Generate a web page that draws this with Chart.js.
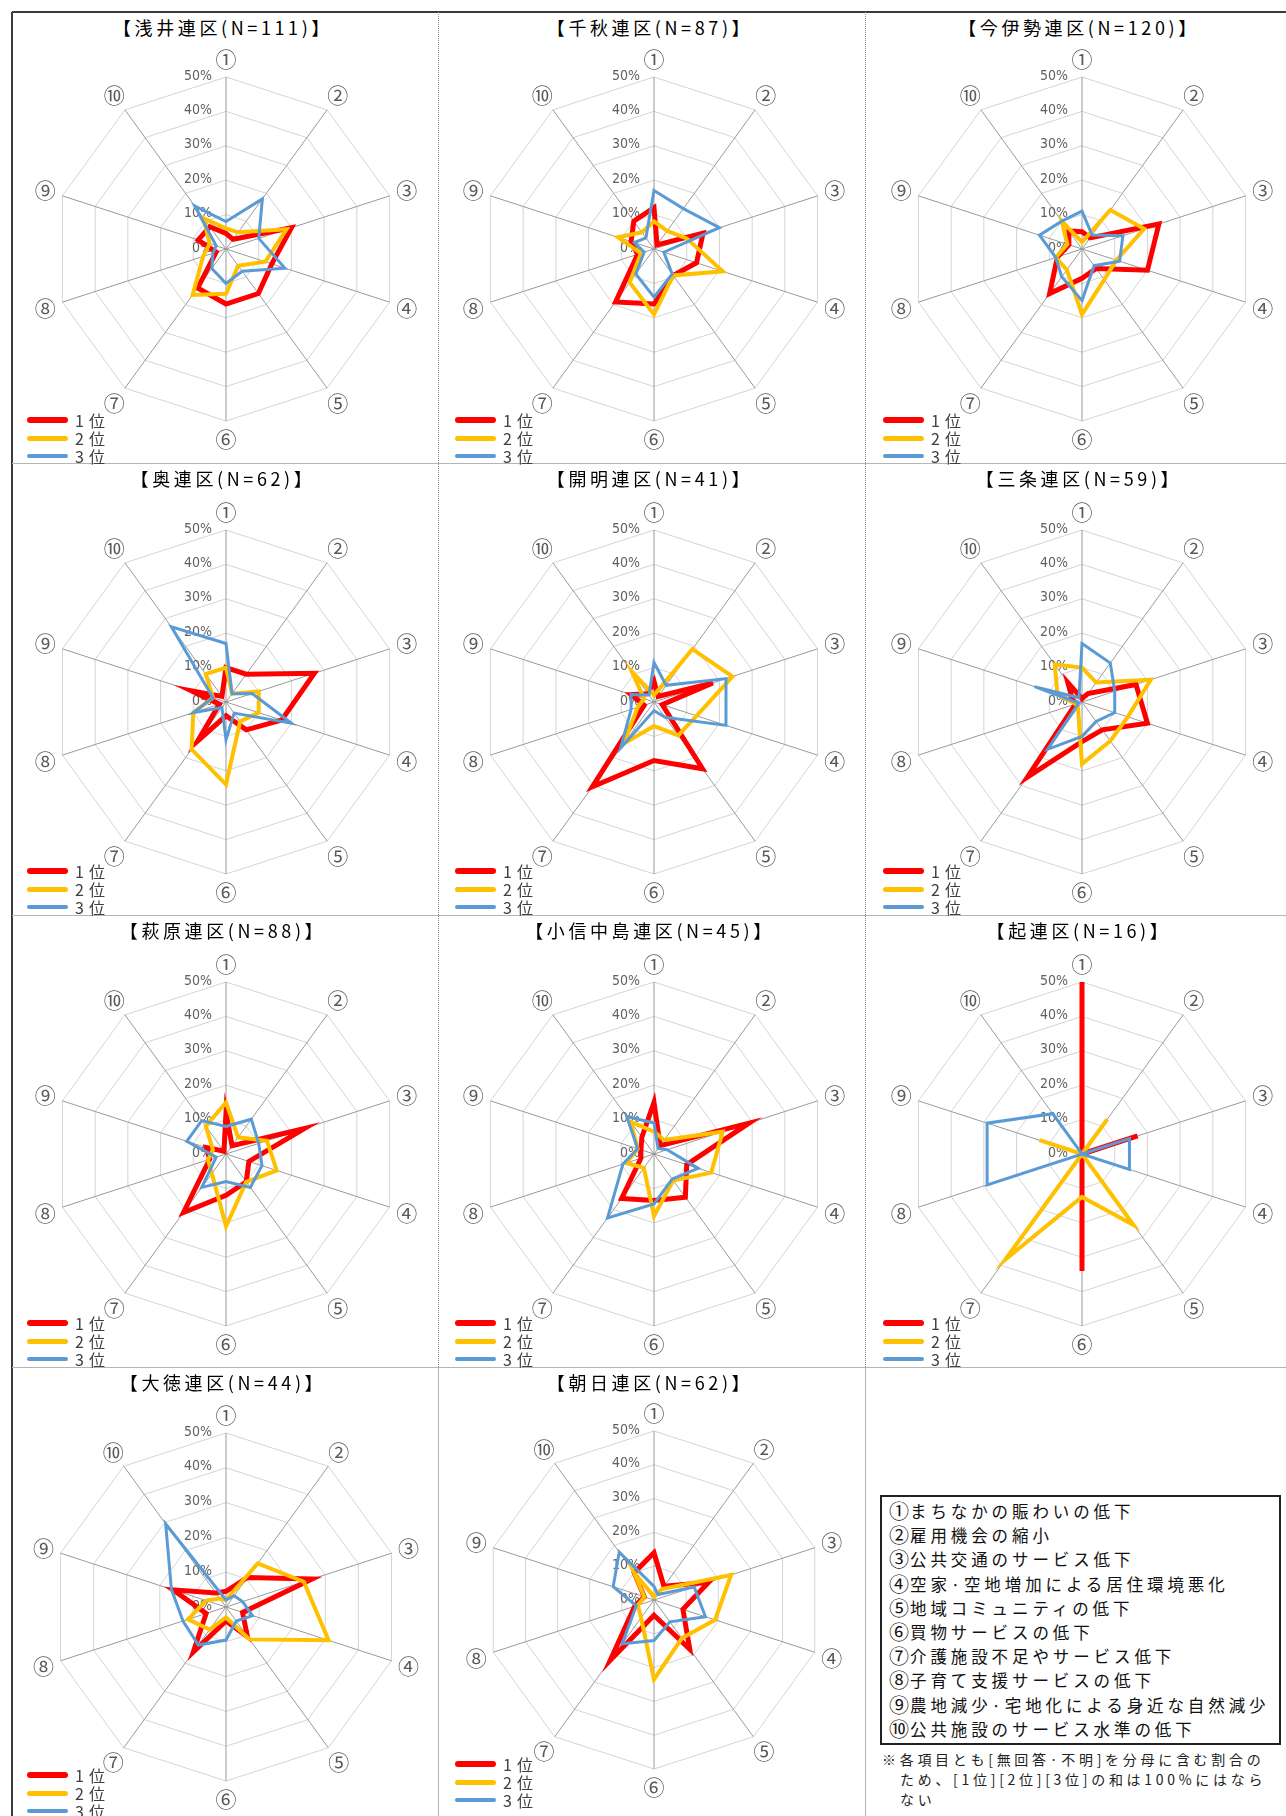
<!DOCTYPE html>
<html lang="ja">
<head>
<meta charset="utf-8">
<title>連区別 地域の課題（1位・2位・3位）</title>
<script src="https://cdn.jsdelivr.net/npm/chart.js@4.4.1/dist/chart.umd.min.js"></script>
<style>
  body { margin: 0; background: #fff; font-family: "Noto Sans CJK JP", "Noto Sans", sans-serif; }
  #page { position: relative; width: 1286px; height: 1816px; overflow: hidden; }
  .rule { position: absolute; }
  .title { position: absolute; width: 420px; margin-left: -210px; text-align: center; font-size: 18px;
           letter-spacing: 3.6px; line-height: 22px; color: #000; white-space: nowrap; z-index: 2; }
  .legend { position: absolute; font-size: 16px; color: #404040; letter-spacing: 5px; z-index: 2; }
  .legend div { height: 18px; display: flex; align-items: center; white-space: nowrap; }
  .legend .swatch { display: inline-block; width: 41px; margin-right: 7px; border-radius: 3px; }
  canvas { position: absolute; z-index: 1; }
  #key { position: absolute; left: 880px; top: 1495px; width: 401px; height: 250px; box-sizing: border-box;
         border: 2px solid #222; padding: 2px 0 0 7px; font-size: 16.5px; letter-spacing: 3.9px;
         color: #111; white-space: nowrap; }
  #key div { height: 24.2px; line-height: 24.2px; }
  #key .num { font-size: 20px; letter-spacing: 1px; vertical-align: -1px; }
  #note { position: absolute; left: 882px; top: 1749px; font-size: 14px; letter-spacing: 3.7px;
          line-height: 20px; color: #222; white-space: nowrap; padding-left: 18px; text-indent: -18px; }
</style>
</head>
<body>
<div id="page">
  <div id="key"></div>
  <div id="note">※各項目とも[無回答·不明]を分母に含む割合の<br>ため、[1位][2位][3位]の和は100%にはなら<br>ない</div>
</div>
<script>
// axis categories and scale ticks (percent)
var categories = ['①', '②', '③', '④', '⑤', '⑥', '⑦', '⑧', '⑨', '⑩'];
var categoryNames = ['まちなかの賑わいの低下', '雇用機会の縮小', '公共交通のサービス低下',
                     '空家·空地増加による居住環境悪化', '地域コミュニティの低下', '買物サービスの低下',
                     '介護施設不足やサービス低下', '子育て支援サービスの低下',
                     '農地減少·宅地化による身近な自然減少', '公共施設のサービス水準の低下'];
var tickValues = [0, 10, 20, 30, 40, 50];
var seriesNames = ['1位', '2位', '3位'];

var districts = ['浅井連区', '千秋連区', '今伊勢連区', '奥連区', '開明連区', '三条連区',
                 '萩原連区', '小信中島連区', '起連区', '大徳連区', '朝日連区'];
var respondents = [111, 87, 120, 62, 41, 59, 88, 45, 16, 44, 62];

// values, % of respondents, order ①..⑩
var asai1 = [4.5, 3.5, 20, 14, 16, 16, 14, 3, 8.5, 8];
var asai2 = [6, 6, 18.5, 12, 6, 13, 16.5, 7, 5, 11];
var asai3 = [8, 18, 10, 18, 8, 10, 7, 4, 3, 15.5];

var chiaki1 = [12, 1.5, 15, 13, 9.5, 16, 19, 5, 7, 10];
var chiaki2 = [8, 6.5, 10, 21, 9.5, 19, 12, 4, 11, 6];
var chiaki3 = [17, 14.5, 20, 3, 9, 14, 9, 3, 6, 4];

var imaise1 = [5, 4, 23.5, 20, 7, 8.5, 16, 7.5, 4, 6.5];
var imaise2 = [2, 14, 19, 10.5, 11, 19, 7.5, 8, 4.5, 10];
var imaise3 = [11, 5, 12.5, 11.5, 6, 15, 10, 8, 13, 10];

var oku1 = [10, 10, 27, 17, 10, 4, 14, 2, 10.5, 2];
var oku2 = [10, 3, 10, 10, 7, 24, 17, 10, 4, 10];
var oku3 = [17, 3, 8, 20, 4, 11, 2, 10, 4, 27];

var kaimei1 = [6, 2, 18, 2.5, 24, 17, 30.5, 3, 7, 3];
var kaimei2 = [2, 19, 24, 13, 12, 7, 15, 5, 3, 11];
var kaimei3 = [11.5, 6, 22, 22, 5.5, 2.5, 16.5, 7, 7, 2.5];

var sanjo1 = [1, 3, 16.5, 20, 10, 11.5, 27, 2, 3, 7];
var sanjo2 = [10, 7, 21, 14, 14, 18, 2, 2, 7.5, 13.5];
var sanjo3 = [17, 14, 10, 10, 7, 10, 17, 1, 14.5, 1.5];

var hagiwara1 = [12, 3, 24, 7, 10, 12, 21, 5, 6, 1];
var hagiwara2 = [15, 6, 12.5, 15.5, 10, 21, 7, 5.5, 4, 10];
var hagiwara3 = [8, 12.5, 10, 11, 12, 8, 12, 3, 12, 12];

var onobu1 = [15, 3, 29, 10, 15.5, 13.5, 16, 4, 4, 6];
var onobu2 = [6.5, 5, 21, 17.5, 9.5, 18, 5, 8.5, 5, 11.5];
var onobu3 = [9, 2, 4, 13.5, 9, 14.5, 23, 9.5, 5, 13.5];

var okoshi1 = [50, 0, 17, 0, 0, 34, 0, 0, 0, 0];
var okoshi2 = [0, 12.5, 0, 0, 25.5, 12.5, 38, 0, 13, 0];
var okoshi3 = [0, 0, 14.5, 14.5, 0, 0, 0, 29, 29, 14.5];

var daitoku1 = [4.5, 10.5, 26, 5, 10.5, 4, 16, 6, 16, 5];
var daitoku2 = [2, 15.5, 23.5, 31, 11.5, 3, 8, 11.5, 6, 3];
var daitoku3 = [2, 4, 5, 8, 5, 9.5, 13.5, 13, 16.5, 29.5];

var asahi1 = [14, 5, 17, 9, 18, 4.5, 22, 6, 3, 10];
var asahi2 = [1, 4, 24, 19, 14, 23.5, 6.5, 5, 3, 10];
var asahi3 = [4, 2, 12.5, 16, 8, 12, 16, 5.5, 12.7, 17.5];

var rankData = [
  [asai1, asai2, asai3], [chiaki1, chiaki2, chiaki3], [imaise1, imaise2, imaise3],
  [oku1, oku2, oku3], [kaimei1, kaimei2, kaimei3], [sanjo1, sanjo2, sanjo3],
  [hagiwara1, hagiwara2, hagiwara3], [onobu1, onobu2, onobu3], [okoshi1, okoshi2, okoshi3],
  [daitoku1, daitoku2, daitoku3], [asahi1, asahi2, asahi3]
];

// look of the three series
var seriesColors = ['#ff0000', '#ffc000', '#5b9bd5'];
var seriesWidths = [5, 4, 3];

// page geometry
var rowY = [12, 463, 915, 1367];
var centerX = [226, 654, 1082];
var centerY = [249, 702, 1154, 1607];
var titleX = [223, 650, 1079];
var legendX = [27, 455, 883];
var MARGIN = 36;

var page = document.getElementById('page');

function addRule(css) {
  var d = document.createElement('div');
  d.className = 'rule';
  d.style.cssText = css;
  page.appendChild(d);
}

// frame and separators
addRule('left:12px;top:11px;width:1274px;height:2px;background:#3a3a3a;');
addRule('left:11px;top:12px;width:2px;height:1804px;background:#3a3a3a;');
[463, 915, 1367].forEach(function (y) {
  addRule('left:12px;top:' + y + 'px;width:1274px;height:1px;background:#b5b5b5;');
});
[438, 865].forEach(function (x) {
  addRule('left:' + x + 'px;top:12px;width:0;height:1355px;border-left:1px dotted #8a8a8a;');
  addRule('left:' + x + 'px;top:1367px;width:1px;height:449px;background:#b5b5b5;');
});

// key box of the ten items
var key = document.getElementById('key');
categories.forEach(function (c, i) {
  var line = document.createElement('div');
  var n = document.createElement('span');
  n.className = 'num';
  n.textContent = c;
  line.appendChild(n);
  line.appendChild(document.createTextNode(categoryNames[i]));
  key.appendChild(line);
});

// draws % tick labels left of axis ① and the circled axis labels
var radarText = {
  id: 'radarText',
  beforeDatasetsDraw: function (chart) {
    var s = chart.scales.r;
    var ctx = chart.ctx;
    ctx.save();
    ctx.font = '14px "Liberation Sans Narrow", "DejaVu Sans Condensed", "Liberation Sans", sans-serif';
    ctx.fillStyle = '#606060';
    ctx.textAlign = 'right';
    ctx.textBaseline = 'middle';
    tickValues.forEach(function (v) {
      ctx.fillText(v + '%', s.xCenter - 14, s.yCenter - s.getDistanceFromCenterForValue(v) - 1);
    });
    ctx.font = '21px "Noto Sans CJK JP", sans-serif';
    ctx.fillStyle = '#595959';
    ctx.textAlign = 'center';
    chart.data.labels.forEach(function (lab, i) {
      var p = s.getPointPosition(i, s.drawingArea + 18);
      ctx.fillText(lab, p.x, p.y);
    });
    ctx.restore();
  }
};

function makeLegend(chart, left, top) {
  var box = document.createElement('div');
  box.className = 'legend';
  box.style.left = left + 'px';
  box.style.top = top + 'px';
  chart.data.datasets.forEach(function (ds) {
    var row = document.createElement('div');
    var sw = document.createElement('span');
    sw.className = 'swatch';
    sw.style.background = ds.borderColor;
    sw.style.height = (ds.borderWidth + 1) + 'px';
    row.appendChild(sw);
    row.appendChild(document.createTextNode(ds.label));
    box.appendChild(row);
  });
  page.appendChild(box);
}

districts.forEach(function (name, k) {
  var col = k % 3;
  var row = Math.floor(k / 3);
  var cx = centerX[col];
  var cy = centerY[row];
  var R = 172;
  var legendTop = rowY[row] + 399;
  if (k === 9) { R = 174; }
  if (k === 10) { cy = 1600; R = 169; legendTop = rowY[row] + 388; }

  var t = document.createElement('div');
  t.className = 'title';
  t.style.left = titleX[col] + 'px';
  t.style.top = (rowY[row] + 4) + 'px';
  t.textContent = '【' + name + '(N=' + respondents[k] + ')】';
  page.appendChild(t);

  var size = 2 * R + 2 * MARGIN;
  var cv = document.createElement('canvas');
  cv.width = size;
  cv.height = size;
  cv.style.left = (cx - R - MARGIN) + 'px';
  cv.style.top = (cy - R - MARGIN) + 'px';
  page.appendChild(cv);

  var datasets = rankData[k].map(function (vals, i) {
    return {
      label: seriesNames[i],
      data: vals,
      borderColor: seriesColors[i],
      backgroundColor: 'transparent',
      borderWidth: seriesWidths[i],
      fill: false,
      pointRadius: 0,
      order: 3 - i
    };
  });

  var chart = new Chart(cv.getContext('2d'), {
    type: 'radar',
    data: { labels: categories, datasets: datasets },
    options: {
      responsive: false,
      animation: false,
      events: [],
      layout: { padding: MARGIN },
      elements: { line: { tension: 0 } },
      plugins: { legend: { display: false }, tooltip: { enabled: false }, title: { display: false } },
      scales: {
        r: {
          min: 0,
          max: 50,
          startAngle: 0,
          ticks: { display: false, stepSize: 10 },
          grid: { color: '#d4d4d4', lineWidth: 1 },
          angleLines: { color: '#9a9a9a', lineWidth: 1 },
          pointLabels: { display: false }
        }
      }
    },
    plugins: [radarText]
  });

  makeLegend(chart, legendX[col], legendTop);
});
</script>
</body>
</html>
